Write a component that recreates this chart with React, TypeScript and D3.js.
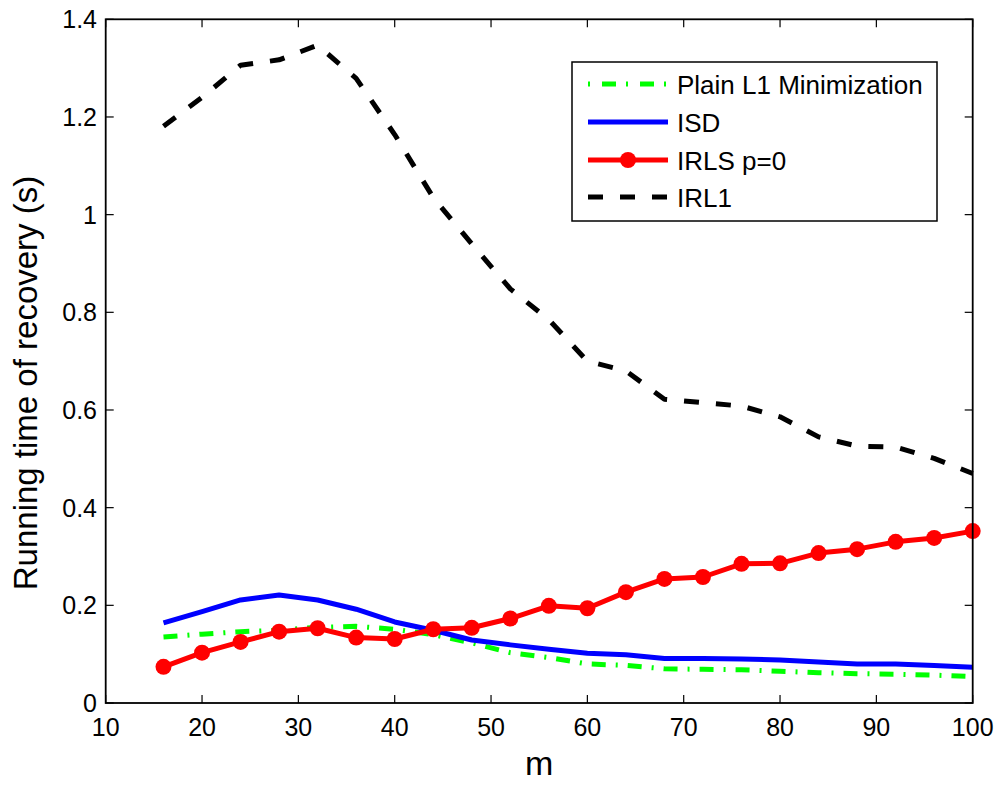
import React from "react";
import * as d3 from "d3";

const mValues = [16, 20, 24, 28, 32, 36, 40, 44, 48, 52, 56, 60, 64, 68, 72, 76, 80, 84, 88, 92, 96, 100];
const plainL1 = [0.135, 0.141, 0.146, 0.149, 0.155, 0.157, 0.151, 0.14, 0.123, 0.103, 0.093, 0.08, 0.077, 0.07, 0.069, 0.068, 0.065, 0.062, 0.06, 0.059, 0.057, 0.054];
const isd = [0.164, 0.187, 0.211, 0.221, 0.211, 0.192, 0.166, 0.149, 0.129, 0.119, 0.11, 0.102, 0.099, 0.091, 0.091, 0.09, 0.088, 0.084, 0.08, 0.08, 0.077, 0.073];
const irls = [0.074, 0.103, 0.125, 0.146, 0.153, 0.134, 0.131, 0.151, 0.154, 0.173, 0.199, 0.194, 0.227, 0.254, 0.258, 0.285, 0.286, 0.307, 0.315, 0.33, 0.338, 0.352];
const irl1 = [1.181, 1.24, 1.306, 1.317, 1.347, 1.279, 1.164, 1.035, 0.94, 0.848, 0.785, 0.7, 0.68, 0.622, 0.615, 0.608, 0.586, 0.545, 0.526, 0.524, 0.501, 0.47];

const xTicks = [10, 20, 30, 40, 50, 60, 70, 80, 90, 100];
const yTicks = [0, 0.2, 0.4, 0.6, 0.8, 1, 1.2, 1.4];

const seriesNames = ["Plain L1 Minimization", "ISD", "IRLS p=0", "IRL1"];

const W = 1002;
const H = 785;
const left = 105.7;
const right = 972.7;
const top = 19.3;
const bottom = 703;

export default function App() {
  const x = d3.scaleLinear().domain([10, 100]).range([left, right]);
  const y = d3.scaleLinear().domain([0, 1.4]).range([bottom, top]);
  const line = d3
    .line<[number, number]>()
    .x((d) => x(d[0]))
    .y((d) => y(d[1]));
  const pts = (vals: number[]) => mValues.map((m, i) => [m, vals[i]] as [number, number]);

  const font = "Liberation Sans, Arial, Helvetica, sans-serif";
  const fmt = (v: number) => (v === 0 ? "0" : d3.format("~g")(v));

  const styles = [
    { color: "#00ff00", dash: "14,10,2,10", marker: false, data: plainL1 },
    { color: "#0000ff", dash: "none", marker: false, data: isd },
    { color: "#ff0000", dash: "none", marker: true, data: irls },
    { color: "#000000", dash: "15,17", marker: false, data: irl1 },
  ];

  const legX = 572;
  const legY = 62;
  const legW = 365;
  const legH = 159;
  const rowY = [84, 122, 160, 197];

  return (
    <svg
      width={W}
      height={H}
      style={{ position: "absolute", left: 0, top: 0, background: "#fff" }}
      fontFamily={font}
    >
      <rect x={0} y={0} width={W} height={H} fill="#fff" />
      {/* series */}
      {styles.map((s, i) => (
        <g key={i}>
          <path
            d={line(pts(s.data)) || ""}
            fill="none"
            stroke={s.color}
            strokeWidth={5}
            strokeDasharray={s.dash}
            strokeLinejoin="round"
          />
          {s.marker &&
            pts(s.data).map((p, j) => (
              <circle key={j} cx={x(p[0])} cy={y(p[1])} r={8} fill={s.color} />
            ))}
        </g>
      ))}
      {/* axes box */}
      <rect x={left} y={top} width={right - left} height={bottom - top} fill="none" stroke="#000" strokeWidth={1.8} />
      {xTicks.map((t) => (
        <g key={"x" + t}>
          <line x1={x(t)} x2={x(t)} y1={bottom} y2={bottom - 8} stroke="#000" strokeWidth={1.2} />
          <line x1={x(t)} x2={x(t)} y1={top} y2={top + 8} stroke="#000" strokeWidth={1.2} />
          <text x={x(t)} y={736} textAnchor="middle" fontSize={25} fill="#000">
            {t}
          </text>
        </g>
      ))}
      {yTicks.map((t) => (
        <g key={"y" + t}>
          <line x1={left} x2={left + 8} y1={y(t)} y2={y(t)} stroke="#000" strokeWidth={1.2} />
          <line x1={right} x2={right - 8} y1={y(t)} y2={y(t)} stroke="#000" strokeWidth={1.2} />
          <text x={97} y={y(t) + 9} textAnchor="end" fontSize={25} fill="#000">
            {fmt(t)}
          </text>
        </g>
      ))}
      {/* axis labels */}
      <text x={(left + right) / 2} y={775} textAnchor="middle" fontSize={34} fill="#000">
        m
      </text>
      <text
        transform={`translate(37, 383) rotate(-90)`}
        textAnchor="middle"
        fontSize={33}
        fill="#000"
      >
        Running time of recovery (s)
      </text>
      {/* legend */}
      <rect x={legX} y={legY} width={legW} height={legH} fill="#fff" stroke="#000" strokeWidth={1.5} />
      {styles.map((s, i) => (
        <g key={"leg" + i}>
          <line
            x1={588}
            x2={668}
            y1={rowY[i]}
            y2={rowY[i]}
            stroke={s.color}
            strokeWidth={5}
            strokeDasharray={i === 0 ? "2,12,14,10,2,12,14,10,2" : s.dash}
          />
          {s.marker && <circle cx={628} cy={rowY[i]} r={8} fill={s.color} />}
          <text x={677} y={rowY[i] + 9.5} fontSize={26} fill="#000">
            {seriesNames[i]}
          </text>
        </g>
      ))}
    </svg>
  );
}
